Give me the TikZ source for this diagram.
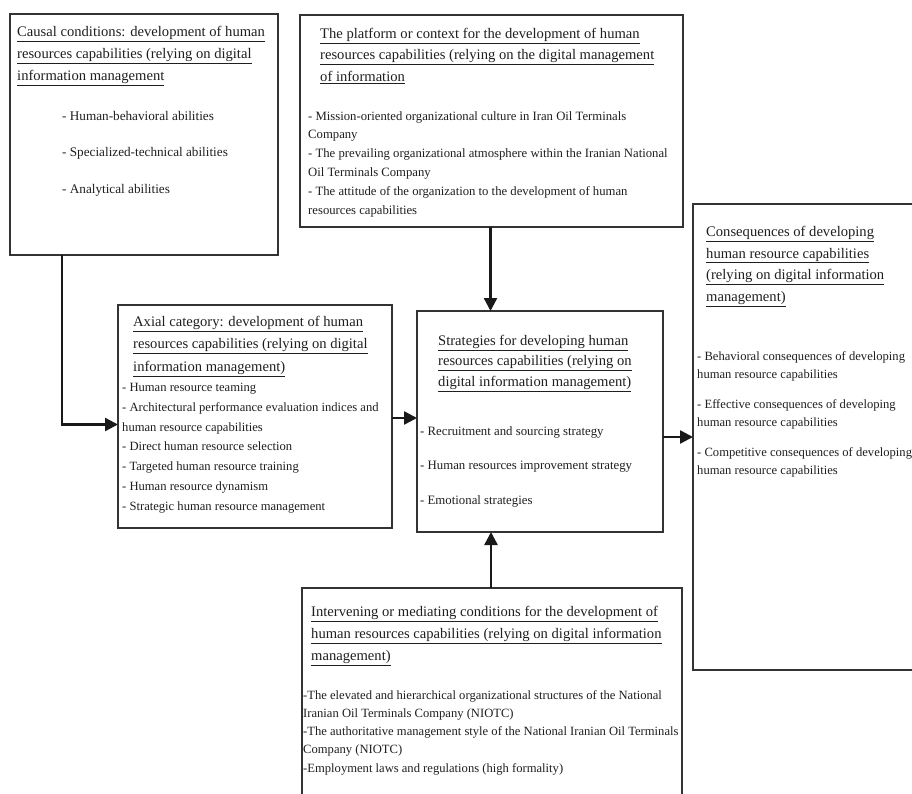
\documentclass[tikz,border=0pt]{standalone}
\usepackage{fontspec}
\setmainfont{Liberation Serif}
\usetikzlibrary{arrows.meta}
\begin{document}
\begin{tikzpicture}[x=1pt,y=-1pt,
  box/.style={draw=black!80, line width=1.2pt, rectangle, inner sep=0pt, outer sep=0pt, anchor=north west},
  ttl/.style={anchor=north west, inner sep=0pt, align=left, text=black!88, font=\fontsize{14.6}{22}\selectfont},
  bdy/.style={anchor=north west, inner sep=0pt, align=left, text=black!88, font=\fontsize{12.7}{18.6}\selectfont},
  arr/.style={line width=2.4pt, draw=black!90, -{Triangle[length=13pt,width=13pt]}}]
\useasboundingbox (0,0) rectangle (912,794);
\fill[white] (0,0) rectangle (912,794);
\clip (0,0) rectangle (912,794);

% boxes
\node[box, minimum width=268pt, minimum height=241pt] (causal) at (10,14) {};
\node[box, minimum width=383pt, minimum height=212pt] (platform) at (300,15) {};
\node[box, minimum width=240pt, minimum height=466pt] (cons) at (693,204) {};
\node[box, minimum width=274pt, minimum height=223pt] (axial) at (118,305) {};
\node[box, minimum width=246pt, minimum height=221pt] (strat) at (417,311) {};
\node[box, minimum width=380pt, minimum height=230pt] (interv) at (302,588) {};

% causal
\node[ttl] (causalT) at (17,26) {\underline{Causal conditions: development of human}\\\underline{resources capabilities (relying on digital}\\\underline{information management}};
\node[bdy, font=\fontsize{13.2}{18.6}\selectfont] (causalB) at (62,111) {- Human-behavioral abilities\\[18pt]- Specialized-technical abilities\\[18pt]- Analytical abilities};

% platform
\node[ttl, font=\fontsize{14.6}{21.5}\selectfont] (platT) at (320,28) {\underline{The platform or context for the development of human}\\\underline{resources capabilities (relying on the digital management}\\\underline{of information}};
\node[bdy, font=\fontsize{12.7}{18.8}\selectfont] (platB) at (308,111) {- Mission-oriented organizational culture in Iran Oil Terminals\\Company\\- The prevailing organizational atmosphere within the Iranian National\\Oil Terminals Company\\- The attitude of the organization to the development of human\\resources capabilities};

% consequences
\node[ttl, font=\fontsize{14.6}{21.7}\selectfont] (consT) at (706,226) {\underline{Consequences of developing}\\\underline{human resource capabilities}\\\underline{(relying on digital information}\\\underline{management)}};
\node[bdy, font=\fontsize{12.6}{18.3}\selectfont] (consB) at (697,351) {- Behavioral consequences of developing\\human resource capabilities\\[11.5pt]- Effective consequences of developing\\human resource capabilities\\[11.5pt]- Competitive consequences of developing\\human resource capabilities};

% axial
\node[ttl, font=\fontsize{14.6}{22.5}\selectfont] (axT) at (133,316) {\underline{Axial category: development of human}\\\underline{resources capabilities (relying on digital}\\\underline{information management)}};
\node[bdy, font=\fontsize{12.6}{19.8}\selectfont] (axB) at (122,383) {- Human resource teaming\\- Architectural performance evaluation indices and\\human resource capabilities\\- Direct human resource selection\\- Targeted human resource training\\- Human resource dynamism\\- Strategic human resource management};

% strategies
\node[ttl, font=\fontsize{14.6}{20.5}\selectfont] (stT) at (438,335) {\underline{Strategies for developing human}\\\underline{resources capabilities (relying on}\\\underline{digital information management)}};
\node[bdy, font=\fontsize{12.8}{18.6}\selectfont] (stB) at (420,426) {- Recruitment and sourcing strategy\\[16pt]- Human resources improvement strategy\\[16pt]- Emotional strategies};

% intervening
\node[ttl] (inT) at (311,606) {\underline{Intervening or mediating conditions for the development of}\\\underline{human resources capabilities (relying on digital information}\\\underline{management)}};
\node[bdy, font=\fontsize{12.6}{18.3}\selectfont] (inB) at (303,690) {-The elevated and hierarchical organizational structures of the National\\Iranian Oil Terminals Company (NIOTC)\\-The authoritative management style of the National Iranian Oil Terminals\\Company (NIOTC)\\-Employment laws and regulations (high formality)};

% connectors
\draw[arr] ([xshift=52pt]causal.south west) |- ([yshift=-8pt]axial.west);
\draw[arr] ([yshift=-1.5pt]axial.east) -- ([yshift=-1.5pt]axial.east -| strat.west);
\draw[arr] (cons.west -| strat.east) -- (cons.west);
\draw[arr] ([xshift=-1pt]platform.south) -- ([xshift=-1pt]platform.south |- strat.north);
\draw[arr] ([xshift=-1pt]interv.north) -- ([xshift=-1pt]interv.north |- strat.south);
\end{tikzpicture}
\end{document}
